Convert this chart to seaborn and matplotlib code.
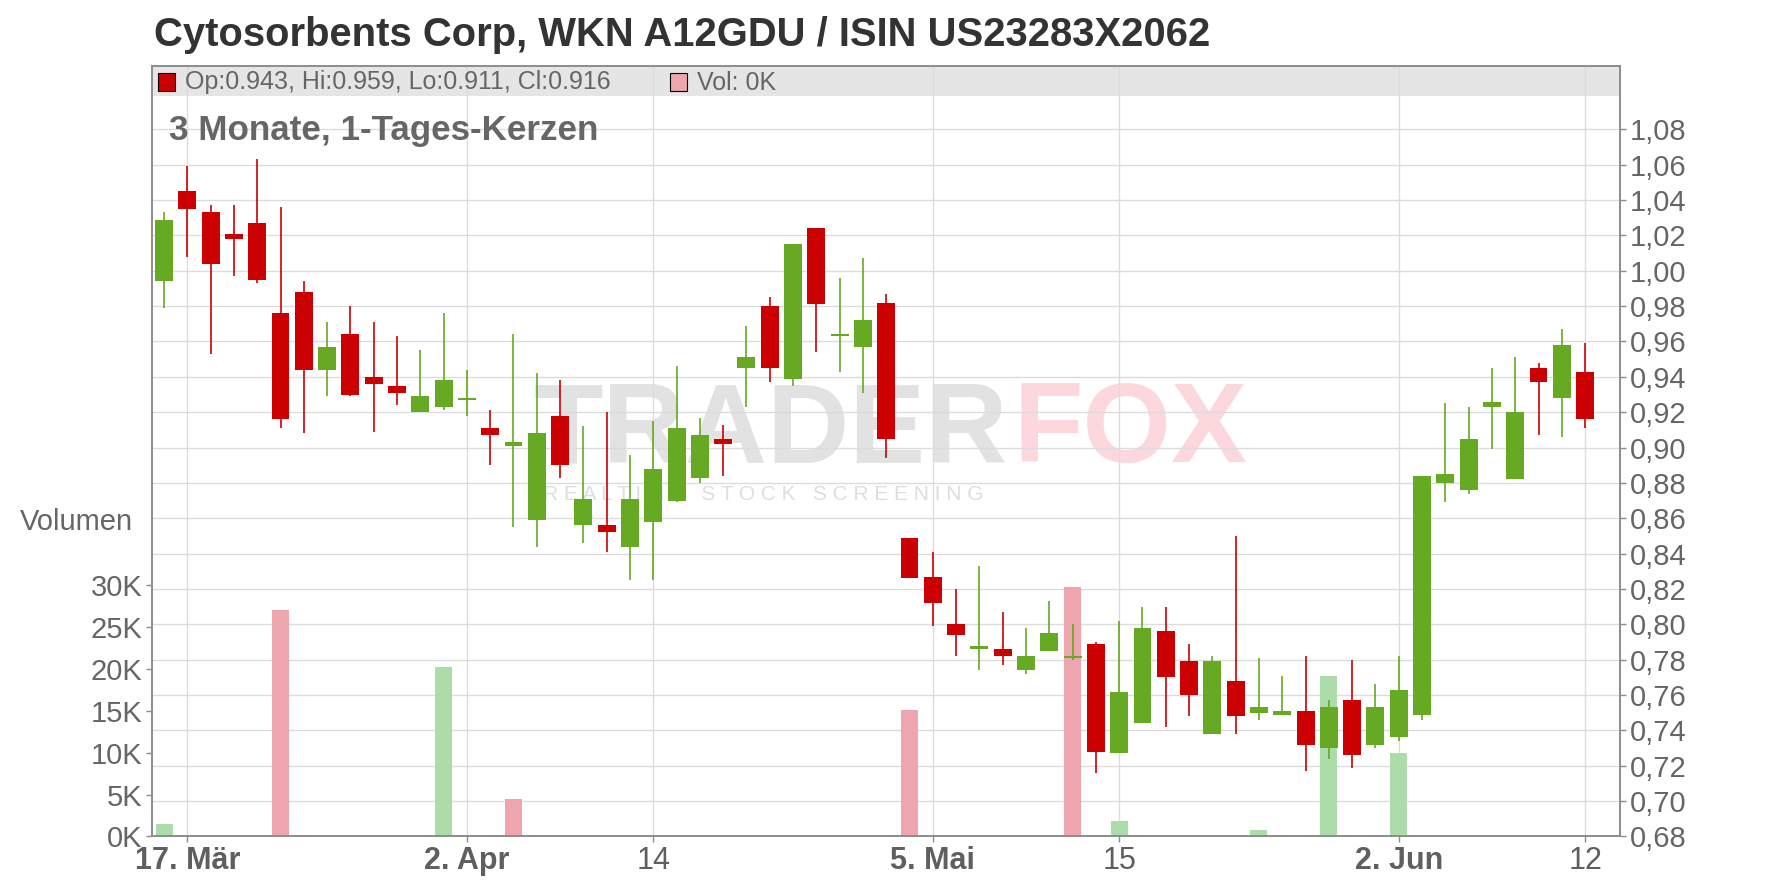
# ============================================================
# CYTOSORBENTS CORP - 3 MONATE, 1-TAGES-KERZEN
# ============================================================

import numpy as np
import pandas as pd
import matplotlib
matplotlib.use("Agg")
import matplotlib.pyplot as plt
import matplotlib.transforms as mtransforms
from matplotlib.patches import Rectangle
import seaborn as sns

# ============================================================
# DATA
# ============================================================

dates = [
    "14.03", "17.03", "18.03", "19.03", "20.03", "21.03", "24.03", "25.03",
    "26.03", "27.03", "28.03", "31.03", "01.04", "02.04", "03.04", "04.04",
    "07.04", "08.04", "09.04", "10.04", "11.04", "14.04", "15.04", "16.04",
    "17.04", "22.04", "23.04", "24.04", "25.04", "28.04", "29.04", "30.04",
    "02.05", "05.05", "06.05", "07.05", "08.05", "09.05", "12.05", "13.05",
    "14.05", "15.05", "16.05", "19.05", "20.05", "21.05", "22.05", "23.05",
    "26.05", "27.05", "28.05", "29.05", "30.05", "02.06", "03.06", "04.06",
    "05.06", "06.06", "09.06", "10.06", "11.06", "12.06",
]

opens = [
    0.994, 1.045, 1.033, 1.021, 1.027, 0.976, 0.988, 0.944,
    0.964, 0.940, 0.935, 0.920, 0.923, 0.927, 0.911, 0.901,
    0.859, 0.918, 0.856, 0.856, 0.844, 0.858, 0.870, 0.883,
    0.905, 0.945, 0.980, 0.939, 1.024, 0.963, 0.957, 0.982,
    0.849, 0.827, 0.800, 0.786, 0.786, 0.774, 0.785, 0.781,
    0.789, 0.727, 0.744, 0.796, 0.779, 0.738, 0.768, 0.750,
    0.749, 0.751, 0.730, 0.757, 0.732, 0.736, 0.749, 0.880,
    0.876, 0.923, 0.882, 0.945, 0.928, 0.943,
]

highs = [
    1.033, 1.059, 1.037, 1.037, 1.063, 1.036, 0.994, 0.971,
    0.980, 0.971, 0.963, 0.955, 0.976, 0.944, 0.921, 0.964,
    0.942, 0.938, 0.912, 0.920, 0.896, 0.915, 0.946, 0.917,
    0.913, 0.969, 0.985, 1.015, 1.024, 0.996, 1.007, 0.987,
    0.849, 0.841, 0.820, 0.833, 0.807, 0.798, 0.813, 0.800,
    0.790, 0.802, 0.810, 0.810, 0.789, 0.782, 0.850, 0.781,
    0.771, 0.782, 0.757, 0.780, 0.766, 0.782, 0.884, 0.925,
    0.923, 0.945, 0.951, 0.948, 0.967, 0.959,
]

lows = [
    0.979, 1.008, 0.953, 0.997, 0.993, 0.911, 0.908, 0.929,
    0.929, 0.909, 0.924, 0.920, 0.921, 0.918, 0.890, 0.855,
    0.844, 0.883, 0.846, 0.841, 0.825, 0.825, 0.869, 0.880,
    0.884, 0.923, 0.937, 0.935, 0.954, 0.943, 0.931, 0.894,
    0.826, 0.799, 0.782, 0.774, 0.777, 0.772, 0.785, 0.780,
    0.716, 0.727, 0.744, 0.742, 0.748, 0.738, 0.738, 0.746,
    0.749, 0.717, 0.724, 0.719, 0.730, 0.734, 0.746, 0.869,
    0.874, 0.899, 0.882, 0.907, 0.906, 0.911,
]

closes = [
    1.029, 1.035, 1.004, 1.018, 0.995, 0.916, 0.944, 0.957,
    0.930, 0.936, 0.931, 0.929, 0.938, 0.928, 0.907, 0.903,
    0.908, 0.890, 0.871, 0.852, 0.871, 0.888, 0.911, 0.907,
    0.902, 0.951, 0.945, 1.015, 0.981, 0.964, 0.972, 0.905,
    0.826, 0.812, 0.794, 0.788, 0.782, 0.782, 0.795, 0.782,
    0.728, 0.762, 0.798, 0.770, 0.760, 0.779, 0.748, 0.753,
    0.751, 0.732, 0.753, 0.726, 0.753, 0.763, 0.884, 0.885,
    0.905, 0.926, 0.920, 0.937, 0.958, 0.916,
]

# volume in thousand shares
volume_k = [
    1.5, 0, 0, 0, 0, 27.0, 0, 0,
    0, 0, 0, 0, 20.2, 0, 0, 4.5,
    0, 0, 0, 0, 0, 0, 0, 0,
    0, 0, 0, 0, 0, 0, 0, 0,
    15.1, 0, 0, 0, 0, 0, 0, 29.8,
    0, 1.8, 0, 0, 0, 0, 0, 0.75,
    0, 0, 19.1, 0, 0, 10.0, 0, 0,
    0, 0, 0, 0, 0, 0,
]

tick_dates = ["17.03", "02.04", "14.04", "05.05", "15.05", "02.06", "12.06"]
tick_labels = ["17. Mär", "2. Apr", "14", "5. Mai", "15", "2. Jun", "12"]
tick_bold = [True, True, False, True, False, True, False]

price_ticks = [0.68, 0.70, 0.72, 0.74, 0.76, 0.78, 0.80, 0.82, 0.84, 0.86,
               0.88, 0.90, 0.92, 0.94, 0.96, 0.98, 1.00, 1.02, 1.04, 1.06, 1.08]
volume_ticks = [0, 5, 10, 15, 20, 25, 30]

# ============================================================
# DATAFRAME
# ============================================================

df = pd.DataFrame({
    "date": dates,
    "open": opens,
    "high": highs,
    "low": lows,
    "close": closes,
    "volume_k": volume_k,
})
df["idx"] = np.arange(len(df))
df["up"] = df["close"] >= df["open"]
df["vol_dir"] = np.where(df["close"].diff().fillna(1) >= 0, "up", "down")

GREEN = "#66a922"
RED = "#cc0000"
GRID = "#dcdcdc"
SPINE = "#8c8c8c"
TEXT = "#666666"

# ============================================================
# STYLE
# ============================================================

sns.set_style("white")
plt.rcParams["font.family"] = ["Liberation Sans", "DejaVu Sans"]

fig = plt.figure(figsize=(17.76, 8.88), dpi=100)

ax_vol = fig.add_axes([0.0858, 0.0580, 0.8264, 0.868])
ax = ax_vol.twinx()

# ============================================================
# BACKGROUND: HEADER BAND, WATERMARK, GRID
# ============================================================

ax_vol.add_patch(Rectangle((0, 0.961), 1, 0.039, transform=ax_vol.transAxes,
                           facecolor="#e5e5e5", edgecolor="none", zorder=0.3))

ax_vol.text(0.5676, 0.512, "TRADER", transform=fig.transFigure,
            ha="right", va="center", fontsize=82, fontweight="bold",
            color="#e2e2e2", zorder=0.4)
ax_vol.text(0.5704, 0.512, "FOX", transform=fig.transFigure,
            ha="left", va="center", fontsize=82, fontweight="bold",
            color="#fcd8dd", zorder=0.4)
ax_vol.text(0.3057, 0.4430, " ".join("REALTIME STOCK SCREENING"),
            transform=fig.transFigure, ha="left", va="center",
            fontsize=15, color="#dedede", zorder=0.4)

trans = mtransforms.blended_transform_factory(ax_vol.transAxes, ax.transData)
ax_vol.hlines(price_ticks, 0, 1, transform=trans, colors=GRID,
              linewidth=1.0, zorder=0.6)

# ============================================================
# VOLUME BARS
# ============================================================

sns.barplot(
    data=df,
    x="idx",
    y="volume_k",
    hue="vol_dir",
    palette={"up": "#acdca9", "down": "#eda6ae"},
    dodge=False,
    native_scale=True,
    width=0.73,
    saturation=1,
    errorbar=None,
    linewidth=0,
    legend=False,
    ax=ax_vol,
    zorder=2,
)

# ============================================================
# CANDLES
# ============================================================

colors = np.where(df["up"], GREEN, RED)

ax.vlines(df["idx"], df["low"], df["high"], colors=colors,
          linewidth=1.2, zorder=2)

body_h = np.maximum((df["close"] - df["open"]).abs(), 0.0012)
body_bottom = np.minimum(df["open"], df["close"])

ax.bar(df["idx"], body_h, bottom=body_bottom, width=0.77,
       color=colors, linewidth=0, zorder=3)

# ============================================================
# AXES
# ============================================================

tick_pos = [dates.index(d) for d in tick_dates]

ax_vol.set_xlim(-0.5, 62.5)
ax_vol.set_ylim(0, 91.9)
ax.set_ylim(0.68, 1.116)

ax_vol.set_xticks(tick_pos)
ax_vol.set_xticklabels(tick_labels)
for lbl, bold in zip(ax_vol.get_xticklabels(), tick_bold):
    lbl.set_fontweight("bold" if bold else "normal")

ax_vol.set_yticks(volume_ticks)
ax_vol.set_yticklabels([f"{v}K" for v in volume_ticks])

ax.set_yticks(price_ticks)
ax.set_yticklabels([f"{p:.2f}".replace(".", ",") for p in price_ticks])

ax_vol.set_xlabel("")
ax_vol.set_ylabel("")
ax.set_ylabel("")

ax_vol.grid(axis="x", color=GRID, linewidth=1.0)
ax_vol.grid(axis="y", visible=False)
ax.grid(False)
ax_vol.set_axisbelow(True)

ax_vol.tick_params(axis="x", bottom=True, length=4, width=1, color=SPINE,
                   labelsize=22, labelcolor="#5f5f5f", pad=3)
ax_vol.tick_params(axis="y", left=True, length=4, width=1, color=SPINE,
                   labelsize=21, labelcolor=TEXT, pad=3)
ax.tick_params(axis="y", right=True, length=4, width=1, color=SPINE,
               labelsize=21, labelcolor=TEXT, pad=3)

for a in (ax_vol, ax):
    for s in a.spines.values():
        s.set_visible(True)
        s.set_color(SPINE)
        s.set_linewidth(1.2)

# ============================================================
# TEXTS
# ============================================================

fig.text(0.0867, 1 - 46 / 888, "Cytosorbents Corp, WKN A12GDU / ISIN US23283X2062",
         ha="left", va="baseline", fontsize=28.8, fontweight="bold", color="#333333")

fig.text(0.0952, 1 - 140 / 888, "3 Monate, 1-Tages-Kerzen",
         ha="left", va="baseline", fontsize=25.2, fontweight="bold", color=TEXT)

fig.text(20 / 1776, 1 - 522 / 888, "Volumen", ha="left", va="center",
         fontsize=21, color=TEXT)

fig.patches.append(Rectangle((158 / 1776, 1 - 90.7 / 888), 17 / 1776, 18 / 888,
                             transform=fig.transFigure, facecolor=RED,
                             edgecolor="black", linewidth=0.8))
fig.patches.append(Rectangle((670 / 1776, 1 - 90.7 / 888), 17 / 1776, 18 / 888,
                             transform=fig.transFigure, facecolor="#eda6ae",
                             edgecolor="black", linewidth=0.8))

last = df.iloc[-1]
legend_txt = (f"Op:{last['open']:.3f}, Hi:{last['high']:.3f}, "
              f"Lo:{last['low']:.3f}, Cl:{last['close']:.3f}")
fig.text(185 / 1776, 1 - 89.5 / 888, legend_txt, ha="left", va="baseline",
         fontsize=18, color=TEXT)
fig.text(697 / 1776, 1 - 89.5 / 888, f"Vol: {last['volume_k']:.0f}K",
         ha="left", va="baseline", fontsize=18, color=TEXT)

fig.savefig("out.png", dpi=100)
